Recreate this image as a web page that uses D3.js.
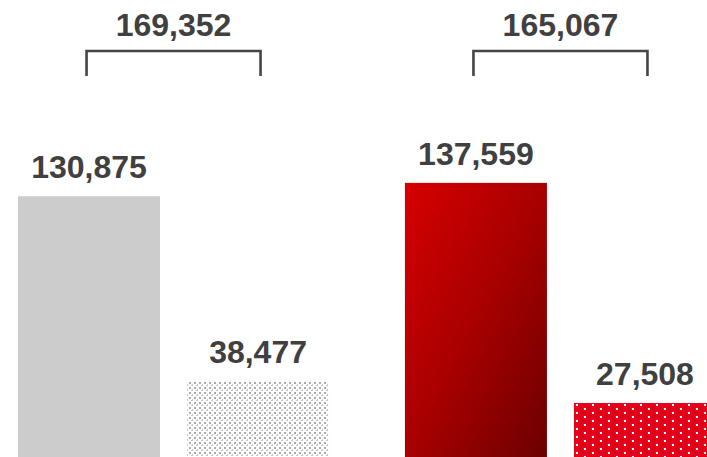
<!DOCTYPE html>
<html>
<head>
<meta charset="utf-8">
<script src="https://cdn.jsdelivr.net/npm/d3@7"></script>
<style>
  html, body { margin: 0; padding: 0; background: #ffffff; }
  svg { display: block; }
</style>
</head>
<body>
<div id="chart"></div>
<script>
// Two groups, each a solid bar and a patterned bar, with the group total above a bracket
const groupKeys = ["g1", "g2"];
const barKeys = ["main", "extra"];
const groupTotals = [169352, 165067];
const mainValues = [130875, 137559];
const extraValues = [38477, 27508];

const W = 707, H = 457;
const fmt = d3.format(",");

const svg = d3.select("#chart").append("svg")
  .attr("width", W).attr("height", H);

const defs = svg.append("defs");

// Diagonal gradient for the dark red bar
const grad = defs.append("linearGradient")
  .attr("id", "redGrad")
  .attr("x1", 0).attr("y1", 0).attr("x2", 1).attr("y2", 1);
grad.append("stop").attr("offset", "0%").attr("stop-color", "#d60000");
grad.append("stop").attr("offset", "50%").attr("stop-color", "#a80000");
grad.append("stop").attr("offset", "100%").attr("stop-color", "#6c0000");

// Grey lattice pattern
const greyPat = defs.append("pattern")
  .attr("id", "greyDots")
  .attr("patternUnits", "userSpaceOnUse")
  .attr("x", 1).attr("y", 2)
  .attr("width", 5).attr("height", 5);
greyPat.append("rect").attr("width", 5).attr("height", 5).attr("fill", "#ffffff");
greyPat.append("rect").attr("x", 0).attr("y", 0).attr("width", 2).attr("height", 2).attr("fill", "#ababab");
greyPat.append("rect").attr("x", 3).attr("y", 2).attr("width", 1).attr("height", 2).attr("fill", "#c4c4c4");
greyPat.append("rect").attr("x", 2).attr("y", 3).attr("width", 2).attr("height", 1).attr("fill", "#c4c4c4");

// Red with white dots pattern
const redPat = defs.append("pattern")
  .attr("id", "redDots")
  .attr("patternUnits", "userSpaceOnUse")
  .attr("x", 3).attr("y", 0)
  .attr("width", 16).attr("height", 8);
redPat.append("rect").attr("width", 16).attr("height", 8).attr("fill", "#e3001b");
redPat.append("rect").attr("x", 0).attr("y", 0).attr("width", 2).attr("height", 2).attr("fill", "#ffffff");
redPat.append("rect").attr("x", 8).attr("y", 4).attr("width", 2).attr("height", 2).attr("fill", "#ffffff");

// Scales
const y = d3.scaleLinear().domain([0, 229000]).range([458, 0]);
const x0 = d3.scaleBand().domain(groupKeys).range([18, 716]).paddingInner(0.196).paddingOuter(0);
const x1 = d3.scaleBand().domain(barKeys).range([0, x0.bandwidth()]).paddingInner(0.16).paddingOuter(0);

const fills = {
  g1: { main: "#cccccc", extra: "url(#greyDots)" },
  g2: { main: "url(#redGrad)", extra: "url(#redDots)" }
};

const rows = groupKeys.map((g, i) => ({
  key: g,
  total: groupTotals[i],
  bars: [
    { key: "main", value: mainValues[i] },
    { key: "extra", value: extraValues[i] }
  ]
}));

const textColor = "#404040";
const font = "'Liberation Sans', Arial, Helvetica, sans-serif";

const group = svg.selectAll("g.grp").data(rows).join("g")
  .attr("class", "grp")
  .attr("transform", d => `translate(${x0(d.key)},0)`);

group.selectAll("rect.bar").data(d => d.bars.map(b => ({ ...b, g: d.key }))).join("rect")
  .attr("class", "bar")
  .attr("x", d => x1(d.key))
  .attr("y", d => y(d.value))
  .attr("width", x1.bandwidth())
  .attr("height", d => y(0) - y(d.value))
  .attr("fill", d => fills[d.g][d.key]);

group.selectAll("text.val").data(d => d.bars).join("text")
  .attr("class", "val")
  .attr("x", d => x1(d.key) + x1.bandwidth() / 2)
  .attr("y", d => y(d.value) - 18)
  .attr("text-anchor", "middle")
  .attr("font-family", font)
  .attr("font-weight", "bold")
  .attr("font-size", 32)
  .attr("fill", textColor)
  .text(d => fmt(d.value));

// Bracket spanning the two bars of each group
const bracketTop = 51, bracketBottom = 76, bracketHalf = 87;
group.append("path")
  .attr("d", () => {
    const c = x0.bandwidth() / 2;
    return `M${c - bracketHalf},${bracketBottom} V${bracketTop} H${c + bracketHalf} V${bracketBottom}`;
  })
  .attr("fill", "none")
  .attr("stroke", "#454545")
  .attr("stroke-width", 2.6);

group.append("text")
  .attr("x", x0.bandwidth() / 2)
  .attr("y", 35.5)
  .attr("text-anchor", "middle")
  .attr("font-family", font)
  .attr("font-weight", "bold")
  .attr("font-size", 32)
  .attr("fill", textColor)
  .text(d => fmt(d.total));
</script>
</body>
</html>
